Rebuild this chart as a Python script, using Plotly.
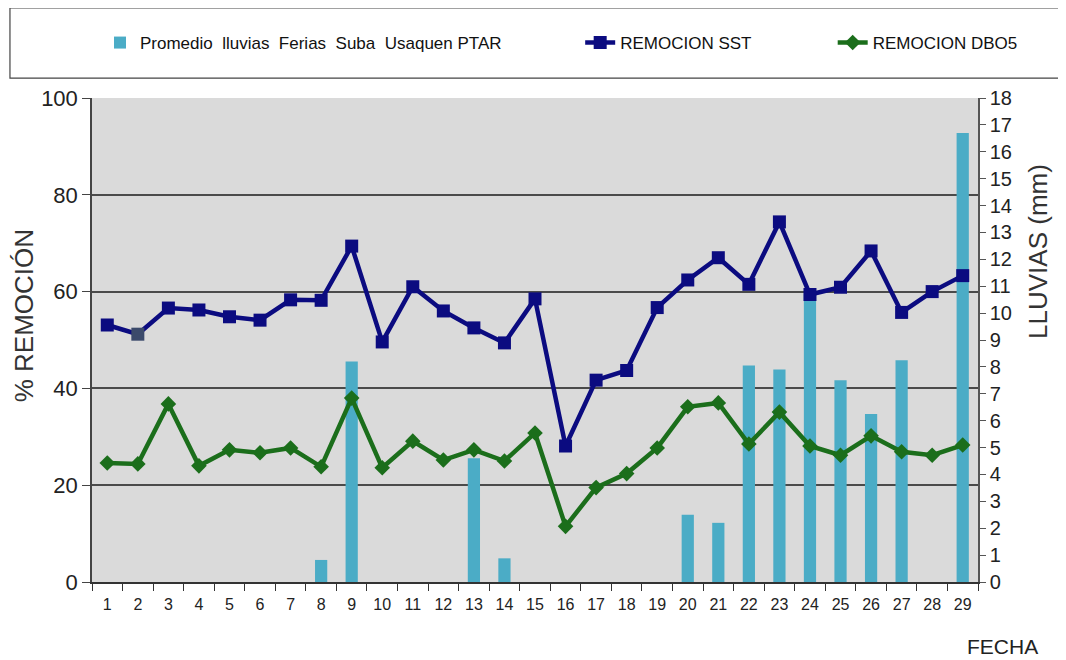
import plotly.graph_objects as go

fechas = [str(i) for i in range(1, 30)]
lluvias = [0, 0, 0, 0, 0, 0, 0, 0.82, 8.2, 0, 0, 0, 4.6, 0.88, 0, 0, 0, 0, 0,
           2.5, 2.2, 8.05, 7.9, 10.7, 7.5, 6.25, 8.25, 0, 16.7]
remocion_sst = [53.1, 51.2, 56.6, 56.2, 54.8, 54.1, 58.3, 58.2, 69.4, 49.6, 61.0, 56.0,
                52.5, 49.4, 58.5, 28.1, 41.7, 43.7, 56.7, 62.4, 67.0, 61.5, 74.4, 59.4,
                60.9, 68.4, 55.7, 60.0, 63.3]
remocion_dbo5 = [24.6, 24.4, 36.8, 24.0, 27.3, 26.7, 27.7, 23.8, 38.0, 23.6, 29.1, 25.2,
                 27.3, 25.0, 30.8, 11.5, 19.5, 22.4, 27.7, 36.2, 37.0, 28.5, 35.1, 28.1,
                 26.2, 30.2, 26.9, 26.2, 28.3]

nar = "Liberation Sans Narrow, Arial Narrow, Liberation Sans, Arial, sans-serif"
reg = "Liberation Sans, Arial, sans-serif"

sst_colors = ["#0B0B80"] * len(fechas)
sst_colors[1] = "#3B4A6B"

fig = go.Figure()
fig.add_trace(go.Bar(
    x=fechas, y=lluvias, name="Promedio\u00a0 lluvias\u00a0 Ferias\u00a0 Suba\u00a0 Usaquen PTAR",
    marker=dict(color="#4BACC6", line=dict(width=0)), width=0.4,
    yaxis="y", legend="legend"))
fig.add_trace(go.Scatter(
    x=fechas, y=remocion_sst, name="REMOCION SST", mode="lines+markers",
    line=dict(color="#0B0B80", width=4.5),
    marker=dict(symbol="square", size=13, color=sst_colors),
    yaxis="y2", legend="legend2"))
fig.add_trace(go.Scatter(
    x=fechas, y=remocion_dbo5, name="REMOCION DBO5", mode="lines+markers",
    line=dict(color="#1B6E1B", width=4.5),
    marker=dict(symbol="diamond", size=12, color="#1B6E1B"),
    yaxis="y2", legend="legend3"))

leg_common = dict(orientation="h", yanchor="middle", xanchor="left", y=1.1136,
                  bgcolor="rgba(0,0,0,0)", font=dict(family=nar, size=17, color="#111"))

fig.update_layout(
    width=1058, height=652,
    margin=dict(l=84, r=88, t=90, b=78, autoexpand=False),
    paper_bgcolor="white", plot_bgcolor="#DADADA",
    xaxis=dict(type="category", tickson="boundaries", ticks="outside", ticklen=7,
               tickcolor="#333", showline=True, linecolor="#333", linewidth=2,
               showgrid=False, tickfont=dict(family=nar, size=16, color="#222"),
               ticklabelstandoff=7,
               range=[-0.5, 28.5], automargin=False),
    yaxis=dict(side="right", range=[0, 18], dtick=1, ticks="outside", ticklen=6,
               tickcolor="#555", showline=True, linecolor="#555", linewidth=1.5,
               showgrid=False, zeroline=False, automargin=False,
               tickfont=dict(family=reg, size=20, color="#222")),
    yaxis2=dict(side="left", overlaying="y", range=[0, 100], dtick=20, ticks="outside",
                ticklen=8, tickcolor="#444", showline=True, linecolor="#444",
                linewidth=1.5, showgrid=True, gridcolor="#4A4A4A", gridwidth=1.5,
                zeroline=False, automargin=False,
                tickfont=dict(family=reg, size=22, color="#222")),
    legend=dict(x=0.009, **leg_common),
    legend2=dict(x=0.551, **leg_common),
    legend3=dict(x=0.836, **leg_common),
    showlegend=True,
    shapes=[dict(type="rect", xref="paper", yref="paper", x0=-0.0926, x1=1.0948,
                 y0=1.041, y1=1.186, line=dict(color="#444", width=1.2),
                 fillcolor="rgba(0,0,0,0)")],
    annotations=[
        dict(text="% REMOCIÓN", textangle=-90, xref="paper", yref="paper",
             x=-0.0773, y=0.55, xanchor="center", yanchor="middle", showarrow=False,
             font=dict(family=reg, size=26, color="#333")),
        dict(text="LLUVIAS (mm)", textangle=-90, xref="paper", yref="paper",
             x=1.0677, y=0.684, xanchor="center", yanchor="middle", showarrow=False,
             font=dict(family=reg, size=26, color="#333")),
        dict(text="FECHA", xref="paper", yref="paper", x=1.0282, y=-0.134,
             xanchor="center", yanchor="middle",
             showarrow=False, font=dict(family=reg, size=21, color="#222")),
    ],
)

fig.write_html("out.html")
